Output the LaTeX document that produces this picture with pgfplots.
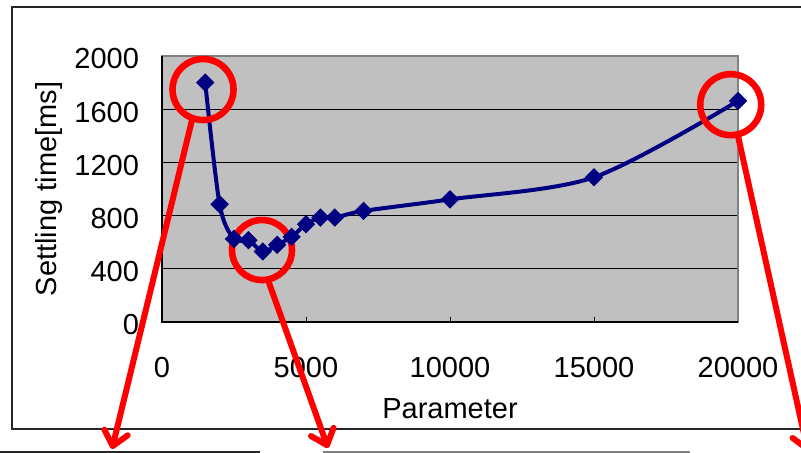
\documentclass[border=0pt]{standalone}
\usepackage{pgfplots}
\pgfplotsset{compat=1.18}
\usepackage{fontspec}
\setmainfont{Liberation Sans}
\usetikzlibrary{arrows.meta}
\definecolor{navy}{HTML}{000080}
\definecolor{plotgray}{HTML}{C0C0C0}
\definecolor{framegray}{HTML}{808080}
\begin{document}
\begin{tikzpicture}
\useasboundingbox (0,0) rectangle (400.5pt,226.5pt);
\begin{axis}[
  at={(81pt,65.5pt)}, anchor=south west,
  scale only axis, width=288pt, height=133pt,
  xmin=0, xmax=20000, ymin=0, ymax=2000,
  xtick={0,5000,10000,15000,20000},
  ytick={0,400,800,1200,1600,2000},
  scaled ticks=false,
  /pgf/number format/1000 sep={},
  /pgf/number format/assume math mode=true,
  tick pos=left, tick align=inside, major tick length=2.5pt,
  axis background/.style={fill=plotgray},
  axis line style={draw=framegray, line width=0.75pt},
  ymajorgrids, grid style={black, line width=0.5pt},
  tick style={black, line width=0.5pt},
  ticklabel style={font=\fontsize{14.5}{16}\selectfont},
  xticklabel style={yshift=-14pt},
  yticklabel style={xshift=-8pt, yshift=-1.5pt},
  label style={font=\fontsize{14.5}{16}\selectfont},
  xlabel={Parameter}, ylabel={Settling time[ms]},
  xlabel style={at={(axis description cs:0.5,-0.327)}, anchor=center},
  ylabel style={at={(axis description cs:-0.197,0.5)}, anchor=center},
  clip=false,
]
\draw[black, line width=0.75pt] (axis description cs:0,1) -- (axis description cs:0,0) -- (axis description cs:1,0);
\addplot[navy, line width=2pt, smooth, tension=0.5, mark=square*, mark size=3pt,
  mark options={rotate=45, solid, fill=navy, draw=navy, line width=0.5pt}] coordinates {
  (1500,1800) (2000,885) (2500,625) (3000,615) (3500,530) (4000,580) (4500,640)
  (5000,735) (5500,785) (6000,785) (7000,835) (10000,922) (15000,1088) (20000,1662)
};
\draw[red, line width=3.3pt] (axis cs:1424,1748) circle[radius=15.25pt];
\draw[red, line width=3.3pt] (axis cs:3472,541) circle[radius=15pt];
\draw[red, line width=3.3pt] (axis cs:19747,1634) circle[radius=15.25pt];
\end{axis}
\begin{scope}[x=0.5pt, y=-0.5pt, shift={(0pt,226.5pt)}]
\draw[black!85, line width=0.75pt] (12,7) rectangle (830,429);
\draw[black!85, line width=1pt] (0,452) -- (260,452);
\draw[framegray, line width=1pt] (323,452) -- (690,452);
\draw[red, line width=3pt, -{Straight Barb[length=7pt,width=12pt,round]}] (192,120) -- (112,449);
\draw[red, line width=3pt, -{Straight Barb[length=7pt,width=12pt,round]}] (268,280) -- (328,448);
\draw[red, line width=3pt, -{Straight Barb[length=7pt,width=12pt,round]}] (738,136) -- (808,452);
\end{scope}
\end{tikzpicture}
\end{document}
